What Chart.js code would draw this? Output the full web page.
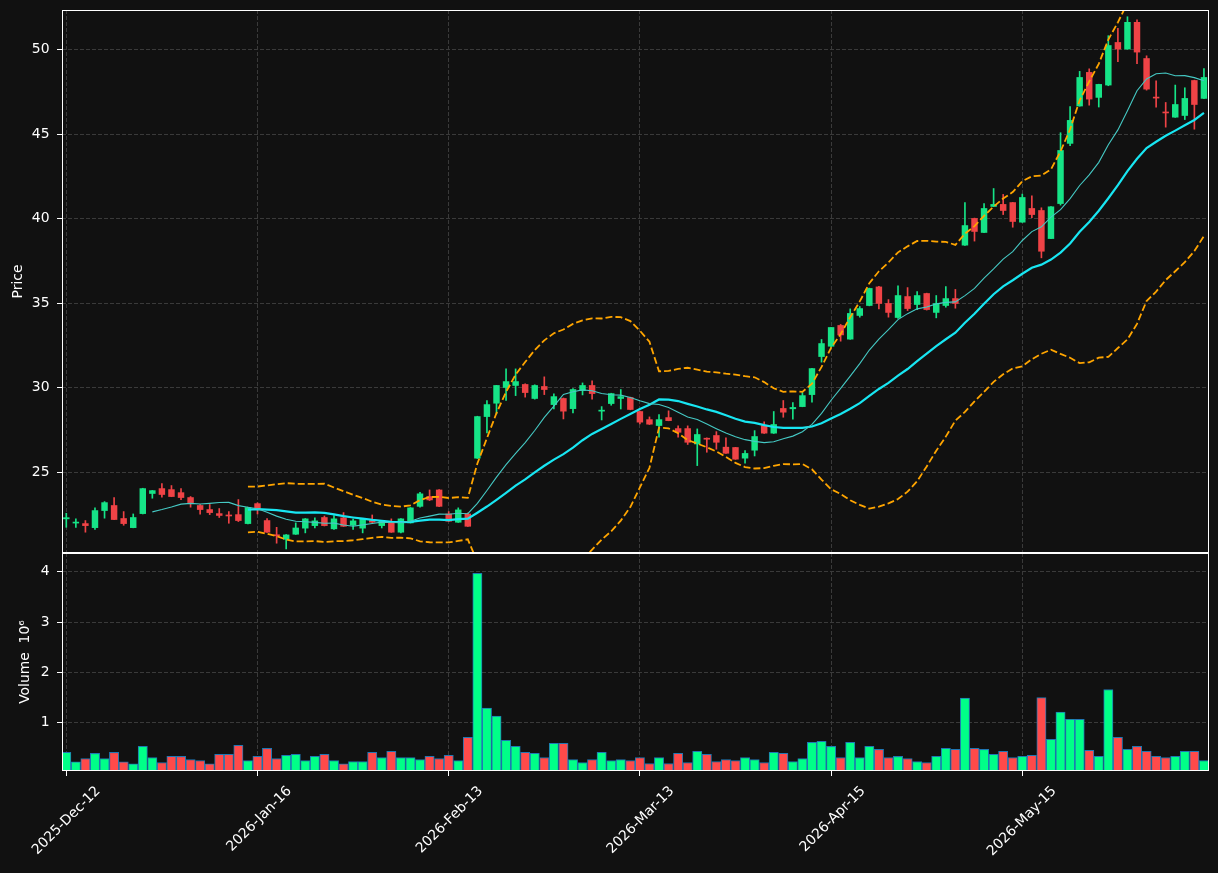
<!DOCTYPE html>
<html>
<head>
<meta charset="utf-8">
<title>Price / Volume</title>
<script src="https://cdn.jsdelivr.net/npm/chart.js@4.4.1/dist/chart.umd.min.js"></script>
<style>
    html, body { margin: 0; padding: 0; background: #111111; }
    #wrap { position: relative; width: 1218px; height: 873px; overflow: hidden; background: #111111; }
    #priceChart { position: absolute; left: 0; top: 0; width: 1218px; height: 553px; }
    #volumeChart { position: absolute; left: 0; top: 550px; width: 1218px; height: 323px; }
</style>
</head>
<body>
<div id="wrap">
    <canvas id="priceChart" width="1218" height="553"></canvas>
    <canvas id="volumeChart" width="1218" height="323"></canvas>
</div>
<script>
// ---------------------------
// Data
// ---------------------------
const opens = [
    22.25, 22.00, 21.97, 21.73, 22.74, 23.04, 22.27, 21.73, 22.56, 23.75,
    24.04, 23.98, 23.80, 23.51, 23.04, 22.80, 22.56, 22.46, 22.50, 21.97,
    23.15, 22.15, 21.30, 21.04, 21.34, 21.70, 21.85, 22.33, 21.66, 22.31,
    21.87, 21.70, 22.15, 21.85, 22.07, 21.46, 22.01, 22.99, 23.57, 23.96,
    22.54, 22.05, 22.54, 25.84, 28.30, 29.09, 30.02, 30.14, 30.20, 29.37,
    30.08, 29.01, 29.37, 28.77, 29.84, 30.14, 28.62, 29.07, 29.37, 29.43,
    28.60, 28.12, 27.77, 28.24, 27.59, 27.59, 26.68, 27.02, 27.18, 26.49,
    26.47, 25.84, 26.31, 27.77, 27.32, 28.78, 28.76, 28.89, 29.60, 31.85,
    32.46, 33.69, 32.88, 34.28, 34.87, 35.97, 34.99, 34.16, 35.40, 34.93,
    35.58, 34.46, 34.87, 35.28, 38.44, 40.02, 39.19, 40.73, 40.85, 40.96,
    39.80, 40.61, 40.49, 38.83, 40.90, 44.46, 46.67, 48.66, 47.18, 47.91,
    50.43, 50.04, 51.62, 49.48, 47.18, 46.30, 46.01, 46.11, 48.18, 47.12
];
const highs = [
    22.58, 22.25, 22.15, 22.90, 23.27, 23.51, 22.68, 22.54, 24.06, 23.93,
    24.34, 24.22, 24.04, 23.57, 23.10, 23.10, 22.86, 22.68, 23.39, 22.95,
    23.20, 22.27, 21.75, 21.32, 22.01, 22.27, 22.31, 22.42, 22.44, 22.62,
    22.23, 22.27, 22.48, 22.16, 22.25, 22.27, 22.92, 23.82, 23.96, 23.98,
    22.68, 22.90, 22.60, 28.32, 29.25, 30.15, 31.12, 31.12, 30.24, 30.18,
    30.65, 29.64, 29.40, 29.95, 30.29, 30.41, 28.89, 29.68, 29.90, 29.45,
    28.62, 28.28, 28.42, 28.64, 27.75, 27.75, 27.57, 27.04, 27.41, 27.04,
    26.48, 26.29, 27.47, 27.99, 28.60, 29.25, 29.13, 29.72, 31.15, 32.86,
    33.57, 33.75, 34.67, 34.81, 35.90, 36.00, 35.22, 36.03, 35.93, 35.70,
    35.60, 35.46, 35.99, 35.82, 40.96, 40.04, 40.90, 41.79, 41.44, 40.97,
    41.46, 41.36, 40.65, 40.72, 45.09, 46.63, 48.72, 48.87, 47.96, 50.83,
    51.26, 51.95, 51.77, 49.64, 48.16, 46.88, 47.91, 47.75, 48.20, 48.89
];
const lows = [
    21.75, 21.75, 21.46, 21.62, 22.29, 22.20, 21.87, 21.72, 22.54, 23.47,
    23.53, 23.56, 23.39, 22.94, 22.52, 22.50, 22.33, 21.99, 22.09, 21.95,
    22.54, 21.45, 20.81, 20.47, 21.33, 21.42, 21.71, 21.83, 21.62, 21.80,
    21.62, 21.42, 22.03, 21.71, 21.45, 21.42, 22.00, 22.94, 23.33, 22.97,
    22.10, 22.04, 21.80, 25.82, 27.33, 28.46, 29.25, 29.54, 29.45, 29.33,
    29.60, 28.75, 28.16, 28.52, 29.58, 29.33, 28.10, 28.97, 28.75, 28.70,
    27.86, 27.83, 27.08, 28.05, 27.08, 26.65, 25.40, 26.19, 26.37, 26.12,
    25.77, 25.54, 25.97, 27.30, 27.30, 28.26, 28.14, 28.88, 29.15, 31.52,
    32.40, 32.76, 32.87, 34.18, 34.85, 34.67, 34.18, 34.10, 34.57, 34.63,
    34.60, 34.14, 34.77, 34.71, 38.43, 38.68, 39.18, 40.72, 40.25, 39.50,
    39.79, 40.06, 37.69, 38.82, 40.81, 44.32, 46.66, 46.72, 46.61, 47.87,
    49.29, 50.03, 49.17, 47.61, 46.60, 45.42, 46.00, 45.87, 45.30, 47.11
];
const closes = [
    22.32, 22.05, 21.85, 22.74, 23.21, 22.21, 21.97, 22.33, 24.04, 23.92,
    23.69, 23.57, 23.51, 23.21, 22.80, 22.62, 22.45, 22.42, 22.15, 22.92,
    22.84, 21.46, 21.25, 21.30, 21.71, 22.25, 22.13, 21.85, 22.25, 21.81,
    22.13, 22.25, 22.05, 22.15, 21.46, 22.25, 22.90, 23.73, 23.37, 22.99,
    22.11, 22.78, 21.81, 28.30, 29.01, 30.14, 30.37, 30.37, 29.72, 30.14,
    29.90, 29.48, 28.62, 29.90, 30.14, 29.66, 28.68, 29.66, 29.48, 28.72,
    27.97, 27.85, 28.12, 28.06, 27.37, 26.78, 27.24, 26.96, 26.78, 26.13,
    25.78, 26.12, 27.12, 27.32, 27.83, 28.56, 28.84, 29.54, 31.14, 32.62,
    33.57, 33.13, 34.40, 34.69, 35.88, 34.99, 34.46, 35.46, 34.69, 35.46,
    34.63, 34.99, 35.28, 34.99, 39.60, 39.25, 40.61, 40.85, 40.49, 39.84,
    41.26, 40.25, 38.08, 40.71, 44.04, 45.82, 48.36, 47.08, 47.95, 50.25,
    50.04, 51.62, 49.86, 47.67, 47.14, 46.26, 46.76, 47.12, 46.76, 48.36
];
// volume in millions
const volumes = [
    0.41, 0.225, 0.29, 0.39, 0.29, 0.41, 0.225, 0.185, 0.53, 0.31,
    0.21, 0.33, 0.33, 0.27, 0.25, 0.185, 0.37, 0.37, 0.55, 0.25,
    0.33, 0.49, 0.29, 0.35, 0.37, 0.25, 0.33, 0.37, 0.25, 0.185,
    0.23, 0.23, 0.41, 0.31, 0.43, 0.31, 0.31, 0.27, 0.33, 0.29,
    0.35, 0.25, 0.71, 3.97, 1.29, 1.13, 0.65, 0.53, 0.41, 0.39,
    0.31, 0.59, 0.59, 0.27, 0.21, 0.27, 0.41, 0.25, 0.27, 0.25,
    0.31, 0.19, 0.31, 0.19, 0.39, 0.21, 0.43, 0.37, 0.23, 0.27,
    0.25, 0.31, 0.27, 0.21, 0.41, 0.39, 0.23, 0.29, 0.61, 0.63,
    0.53, 0.31, 0.61, 0.31, 0.53, 0.47, 0.31, 0.33, 0.29, 0.23,
    0.21, 0.33, 0.49, 0.47, 1.49, 0.49, 0.47, 0.37, 0.43, 0.31,
    0.33, 0.35, 1.50, 0.67, 1.21, 1.07, 1.07, 0.45, 0.33, 1.66,
    0.71, 0.47, 0.53, 0.43, 0.33, 0.31, 0.33, 0.43, 0.43, 0.25
];

const tickIdx = [0, 20, 40, 60, 80, 100];
const tickLabels = ["2025-Dec-12", "2026-Jan-16", "2026-Feb-13", "2026-Mar-13", "2026-Apr-15", "2026-May-15"];
const priceTicks = [25, 30, 35, 40, 45, 50];
const volumeTicks = [1, 2, 3, 4];

// ---------------------------
// Indicators (moving averages + bollinger, from closes)
// ---------------------------
function rollingMean(vals, n) {
    return vals.map((v, i) => i < n - 1 ? null : vals.slice(i - n + 1, i + 1).reduce((a, b) => a + b, 0) / n);
}
function rollingStd(vals, n) {
    const m = rollingMean(vals, n);
    return vals.map((v, i) => {
        if (i < n - 1) return null;
        const win = vals.slice(i - n + 1, i + 1);
        const ss = win.reduce((a, b) => a + (b - m[i]) ** 2, 0);
        return Math.sqrt(ss / (n - 1));
    });
}
const toPoints = arr => arr.map((y, x) => ({ x, y })).filter(p => p.y !== null);

const sma10 = rollingMean(closes, 10);
const sma20 = rollingMean(closes, 20);
const std20 = rollingStd(closes, 20);
const bbUpper = sma20.map((m, i) => m === null ? null : m + 2 * std20[i]);
const bbLower = sma20.map((m, i) => m === null ? null : m - 2 * std20[i]);

// ---------------------------
// Style
// ---------------------------
const UP = "#16e487";
const DOWN = "#ef4346";
const VOL_UP = "#00ff88";
const VOL_DOWN = "#ff4a4a";
const GRID = "#3a3a3a";
const X_MIN = -0.45, X_MAX = 119.53;

Chart.defaults.font.family = "'DejaVu Sans', sans-serif";
Chart.defaults.font.size = 13.9;
Chart.defaults.color = "#ffffff";
Chart.defaults.animation = false;

const idx = closes.map((_, i) => i);
const candleColors = idx.map(i => closes[i] >= opens[i] ? UP : DOWN);
const volumeColors = idx.map(i => closes[i] >= opens[i] ? VOL_UP : VOL_DOWN);

// white box round the plot area
const framePlugin = {
    id: "frame",
    afterDraw(chart) {
        const { ctx, chartArea: a } = chart;
        ctx.save();
        ctx.strokeStyle = "#ffffff";
        ctx.lineWidth = 1;
        ctx.strokeRect(a.left + 0.5, a.top + 0.5, a.right - a.left - 1, a.bottom - a.top - 1);
        ctx.restore();
    }
};

function xAxis(showLabels) {
    return {
        type: "linear",
        min: X_MIN,
        max: X_MAX,
        offset: false,
        afterBuildTicks: s => { s.ticks = tickIdx.map(v => ({ value: v })); },
        afterFit: s => { s.height = showLabels ? 102 : 0; s.paddingLeft = 0; s.paddingRight = 0; },
        grid: { color: GRID, offset: false, drawTicks: showLabels, tickLength: 5, tickColor: "#ffffff", tickWidth: 1, tickBorderDash: [] },
        border: { display: false, dash: [4, 2] },
        ticks: {
            display: showLabels,
            autoSkip: false,
            minRotation: 45,
            maxRotation: 45,
            padding: 7,
            labelOffset: 32,
            color: "#ffffff",
            callback: v => { const k = tickIdx.indexOf(v); return k >= 0 ? tickLabels[k] : ""; }
        }
    };
}

function yAxis(min, max, ticksArr, title, titlePad) {
    return {
        type: "linear",
        min: min,
        max: max,
        beginAtZero: false,
        afterBuildTicks: s => { s.ticks = ticksArr.map(v => ({ value: v })); },
        afterFit: s => { s.width = 62; s.paddingTop = 0; s.paddingBottom = 0; },
        grid: { color: GRID, tickLength: 5, tickColor: "#ffffff", tickWidth: 1, tickBorderDash: [] },
        border: { display: false, dash: [4, 2] },
        ticks: { padding: 7.5, color: "#ffffff" },
        title: { display: true, text: title, color: "#ffffff", padding: { top: titlePad, bottom: 0 } }
    };
}

// ---------------------------
// Price panel
// ---------------------------
new Chart(document.getElementById("priceChart"), {
    type: "bar",
    data: {
        datasets: [
            { type: "line", label: "MA10", data: toPoints(sma10), borderColor: "#45c9c4", borderWidth: 1.1, pointRadius: 0, fill: false, order: 1 },
            { type: "line", label: "MA20", data: toPoints(sma20), borderColor: "#18e6f2", borderWidth: 2.2, pointRadius: 0, fill: false, order: 1 },
            { type: "line", label: "BB upper", data: toPoints(bbUpper), borderColor: "#ffa500", borderWidth: 1.8, borderDash: [7, 3], pointRadius: 0, fill: false, order: 0 },
            { type: "line", label: "BB lower", data: toPoints(bbLower), borderColor: "#ffa500", borderWidth: 1.8, borderDash: [7, 3], pointRadius: 0, fill: false, order: 0 },
            { label: "body", data: idx.map(i => ({ x: i, y: [opens[i], closes[i]] })), backgroundColor: candleColors, barThickness: 5.8, minBarLength: 1, grouped: false, order: 2 },
            { label: "wick", data: idx.map(i => ({ x: i, y: [lows[i], highs[i]] })), backgroundColor: candleColors, barThickness: 1, grouped: false, order: 3 }
        ]
    },
    options: {
        responsive: false,
        layout: { padding: { top: 10, right: 9, bottom: 0, left: 0 } },
        plugins: { legend: { display: false }, tooltip: { enabled: false } },
        scales: {
            x: xAxis(false),
            y: yAxis(20.23, 52.35, priceTicks, "Price", 10)
        }
    },
    plugins: [framePlugin]
});

// ---------------------------
// Volume panel
// ---------------------------
new Chart(document.getElementById("volumeChart"), {
    type: "bar",
    data: {
        datasets: [{
            label: "Volume",
            data: idx.map(i => ({ x: i, y: volumes[i] })),
            backgroundColor: volumeColors,
            borderColor: "#1f77b4",
            borderWidth: 1,
            barThickness: 9.3,
            grouped: false
        }]
    },
    options: {
        responsive: false,
        layout: { padding: { top: 3, right: 9, bottom: 0, left: 0 } },
        plugins: { legend: { display: false }, tooltip: { enabled: false } },
        scales: {
            x: xAxis(true),
            y: yAxis(0.041, 4.372, volumeTicks, "Volume  10\u2076", 17)
        }
    },
    plugins: [framePlugin]
});
</script>
</body>
</html>
